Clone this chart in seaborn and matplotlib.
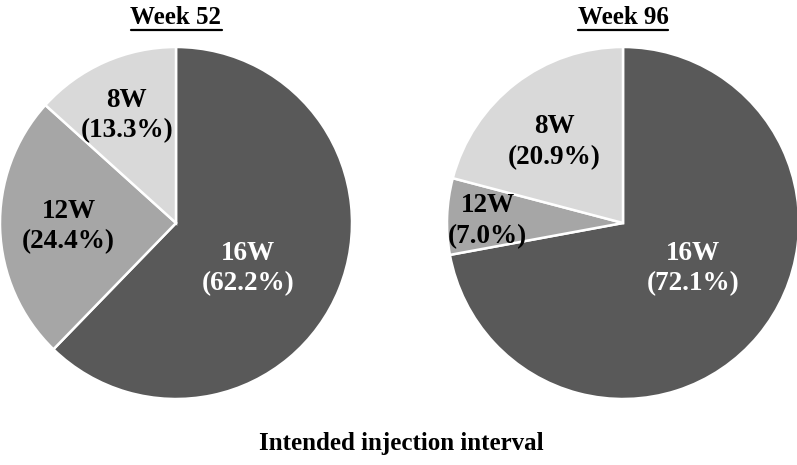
import matplotlib
matplotlib.use("Agg")
import matplotlib.pyplot as plt
import seaborn as sns
from matplotlib.lines import Line2D

sns.set_theme(style="white")
plt.rcParams['font.family'] = ['Liberation Serif', 'DejaVu Serif']
plt.rcParams['font.weight'] = 'bold'

# Data
categories = ["16W", "12W", "8W"]
week52 = [62.2, 24.4, 13.3]
week96 = [72.1, 7.0, 20.9]
titles = ["Week 52", "Week 96"]
xlabel = "Intended injection interval"

colors = ["#595959", "#a6a6a6", "#d9d9d9"]
text_colors = ["white", "black", "black"]

# label positions (in units of pie radius)
label_pos = [
    [(0.41, -0.26), (-0.61, -0.02), (-0.28, 0.61)],
    [(0.40, -0.26), (-0.77, 0.01), (-0.39, 0.46)],
]

W, H = 797, 465
fig = plt.figure(figsize=(W / 100, H / 100), dpi=100)

centers = [(176, 223), (623, 223)]
R = 176
for i, (vals, (cx, cy)) in enumerate(zip([week52, week96], centers)):
    ax = fig.add_axes([(cx - R) / W, (H - cy - R) / H, 2 * R / W, 2 * R / H])
    ax.pie(vals, colors=colors, startangle=90, counterclock=False,
           wedgeprops=dict(edgecolor="white", linewidth=1.8), radius=1)
    ax.set_xlim(-1, 1)
    ax.set_ylim(-1, 1)
    ax.set_aspect("auto")
    ax.axis("off")
    for cat, v, (px, py), tc in zip(categories, vals, label_pos[i], text_colors):
        ax.text(px, py, f"{cat}\n({v:.1f}%)", ha="center", va="center",
                fontsize=19.5, fontweight="bold", color=tc, linespacing=1.3)
    fig.text(cx / W, 1 - 18 / H, titles[i], ha="center", va="center",
             fontsize=18, fontweight="bold", color="black")

fig.canvas.draw()
renderer = fig.canvas.get_renderer()
for t in list(fig.texts):
    bb = t.get_window_extent(renderer)
    y = (bb.y0 - 1) / H
    fig.add_artist(Line2D([bb.x0 / W, bb.x1 / W], [y, y], transform=fig.transFigure,
                          color="black", linewidth=1.6))

fig.text(401 / W, 1 - 443 / H, xlabel, ha="center", va="center",
         fontsize=18, fontweight="bold", color="black")

fig.savefig("out.png", dpi=100, facecolor="white")
